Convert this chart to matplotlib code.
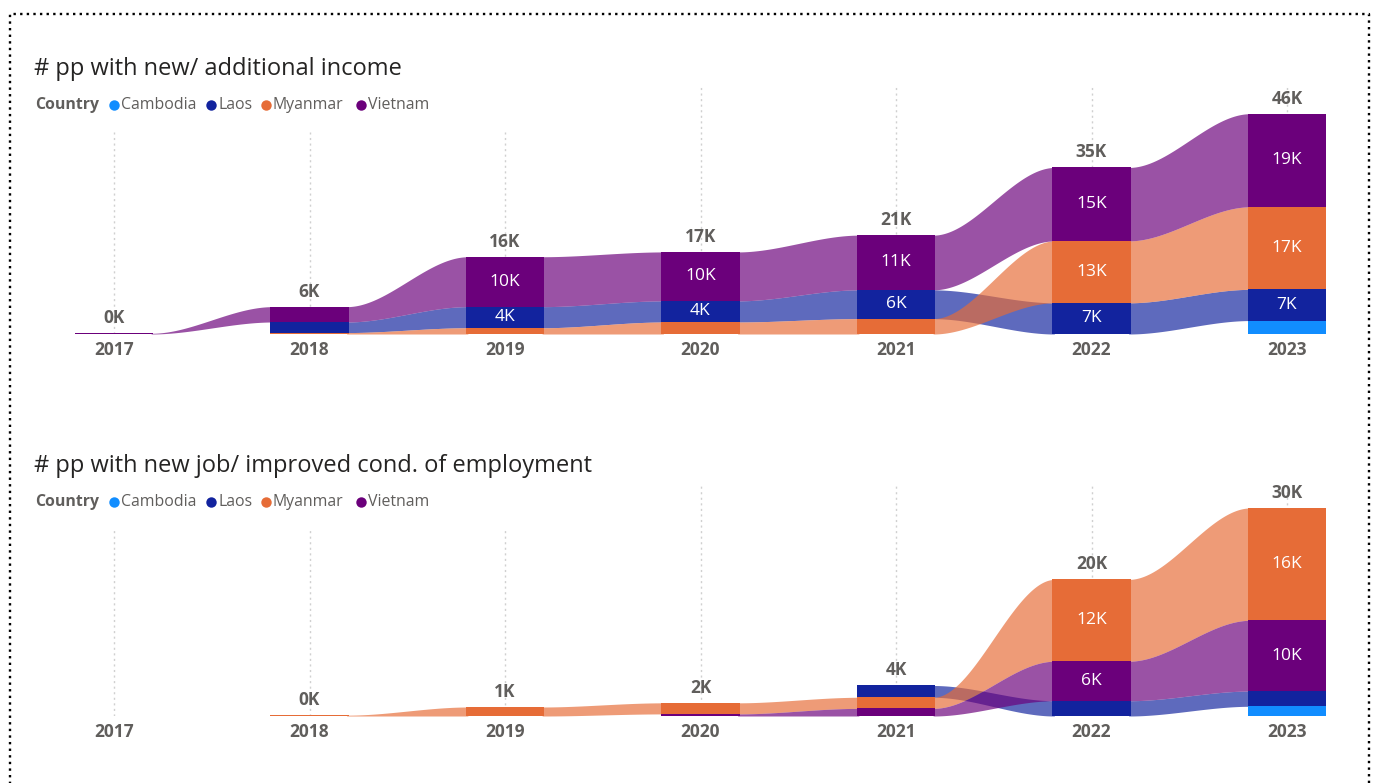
import numpy as np
import matplotlib
matplotlib.use('Agg')
import matplotlib.pyplot as plt
from matplotlib.lines import Line2D

plt.rcParams['font.family'] = ['Open Sans', 'DejaVu Sans']

nan = np.nan

# data (thousands of people), nan = no value for that year
years = ['2017', '2018', '2019', '2020', '2021', '2022', '2023']
countries = ['Cambodia', 'Laos', 'Myanmar', 'Vietnam']
colors = ['#118DFF', '#12239E', '#E66C37', '#6B007B']

income_cambodia = [nan, nan, nan, nan, nan, nan, 2.8]
income_laos = [nan, 2.2, 4.4, 4.4, 6.0, 6.5, 6.5]
income_myanmar = [nan, 0.3, 1.3, 2.5, 3.2, 12.9, 17.2]
income_vietnam = [0.15, 3.2, 10.4, 10.2, 11.4, 15.3, 19.4]

job_cambodia = [nan, nan, nan, nan, nan, nan, 1.4]
job_laos = [nan, nan, nan, nan, 1.7, 2.2, 2.2]
job_myanmar = [nan, 0.12, 1.3, 1.6, 1.6, 11.8, 16.2]
job_vietnam = [nan, nan, nan, 0.3, 1.1, 5.7, 10.2]

W, H = 1377, 783
GRAY = '#605E5C'
BAR_W = 0.4
LBL = 12.5

fig = plt.figure(figsize=(W / 100, H / 100), dpi=100)


def fmt(v):
    return str(int(np.floor(v + 0.5))) + 'K'


def stack(series):
    # bottom/top for each series at each year, smallest value at the bottom
    n = len(series[0])
    bot = np.full((len(series), n), nan)
    top = np.full((len(series), n), nan)
    for j in range(n):
        present = [(series[k][j], k) for k in range(len(series)) if not np.isnan(series[k][j])]
        present.sort()
        base = 0.0
        for v, k in present:
            bot[k, j] = base
            top[k, j] = base + v
            base += v
    return bot, top


def ribbon_chart(px_top, px_base, ymax, series, grid_top_legend):
    ax = fig.add_axes([35 / W, 1 - px_base / H, (1366 - 35) / W, (px_base - px_top) / H])
    ax.set_xlim((35 - 114) / 195.5, (1366 - 114) / 195.5)
    ax.set_ylim(0, ymax)
    ax.axis('off')
    px_per_unit = (px_base - px_top) / ymax

    x = np.arange(len(years))
    for i in x:
        # gridlines are hidden behind the legend box on the left
        gtop = (px_base - grid_top_legend) / (px_base - px_top) if i < 2.5 else 1.0
        ax.axvline(i, 0, gtop, color='#D0D0D0', lw=1, ls=(0, (1.5, 2.5)), zorder=0)

    bot, top = stack(series)
    t = np.linspace(0, 1, 80)
    s = t * t * (3 - 2 * t)
    for k in range(len(series)):
        for j in range(len(years) - 1):
            if np.isnan(bot[k, j]) or np.isnan(bot[k, j + 1]):
                continue
            xs = (j + BAR_W / 2 - 0.01) + t * (1 - BAR_W + 0.02)
            lo = bot[k, j] + s * (bot[k, j + 1] - bot[k, j])
            hi = top[k, j] + s * (top[k, j + 1] - top[k, j])
            ax.fill_between(xs, lo, hi, color=colors[k], alpha=0.68, lw=0, zorder=1)

    for k in range(len(series)):
        vals = np.array(series[k])
        ok = ~np.isnan(vals)
        ax.bar(x[ok], vals[ok], BAR_W, bottom=bot[k][ok], color=colors[k], lw=0, zorder=2)
        for j in x[ok]:
            if vals[j] * px_per_unit >= 19:
                ax.text(j, bot[k, j] + vals[j] / 2, fmt(vals[j]), ha='center', va='center',
                        color='white', fontsize=LBL, zorder=3)

    for j in x:
        ax.annotate(years[j], (j, 0), xytext=(0, -16), textcoords='offset pixels',
                    ha='center', va='center', fontsize=LBL, fontweight='bold', color=GRAY,
                    annotation_clip=False)
        col = [series[k][j] for k in range(len(series)) if not np.isnan(series[k][j])]
        if col:
            tot = sum(col)
            ax.annotate(fmt(tot), (j, tot), xytext=(0, 15), textcoords='offset pixels',
                        ha='center', va='center', fontsize=LBL, fontweight='bold', color=GRAY,
                        annotation_clip=False)
    return ax


ribbon_chart(86, 334, 51.67, [income_cambodia, income_laos, income_myanmar, income_vietnam], 132)
ribbon_chart(483, 716, 33.6, [job_cambodia, job_laos, job_myanmar, job_vietnam], 529)

# overlay in pixel coordinates for titles, legends and frame
ov = fig.add_axes([0, 0, 1, 1], zorder=5)
ov.set_xlim(0, W)
ov.set_ylim(H, 0)
ov.axis('off')

titles = ['# pp with new/ additional income', '# pp with new job/ improved cond. of employment']
for ty, title in zip([69, 466], titles):
    ov.text(34, ty, title, fontsize=17, color='#252423', va='center', ha='left')
    ly = ty + 36
    ov.text(35, ly, 'Country', fontsize=11.4, fontweight='bold', color=GRAY, va='center', ha='left')
    dot_x = [114, 211, 266, 361]
    for dx, name, c in zip(dot_x, countries, colors):
        ov.plot(dx, ly, 'o', ms=7.5, color=c, mec='none')
        ov.text(dx + 7, ly, name, fontsize=11.4, color=GRAY, va='center', ha='left')

frame = Line2D([10, 10, 1369, 1369], [H + 5, 14, 14, H + 5], color='black', lw=1.7,
               ls=(0, (1, 1.8)))
ov.add_line(frame)

fig.savefig('out.png', dpi=100)
